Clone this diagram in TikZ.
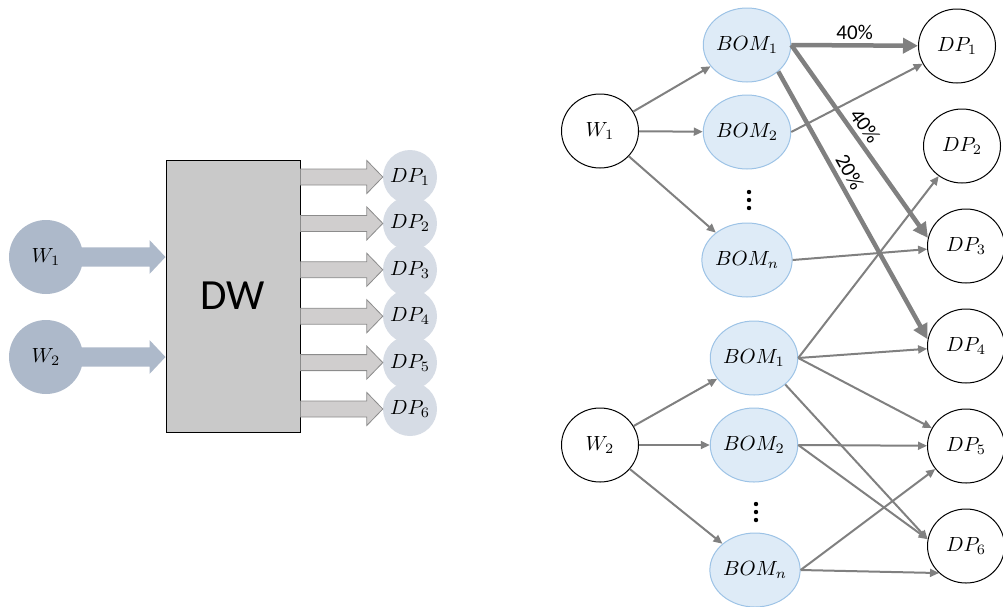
\documentclass[tikz,border=0pt]{standalone}
\usepackage{graphicx}
\usepackage{fontspec}
\newfontfamily\cfont{Carlito}
\usetikzlibrary{shapes.geometric,arrows.meta,calc}
\definecolor{wblue}{HTML}{ADB9CA}
\definecolor{dplight}{HTML}{D6DCE5}
\definecolor{dwgray}{HTML}{C9C9C9}
\definecolor{arrgray}{HTML}{D0CECE}
\definecolor{arroutline}{HTML}{8C8C8C}
\definecolor{bomfill}{HTML}{DEEBF7}
\definecolor{bomdraw}{HTML}{9DC3E6}
\definecolor{edgegray}{HTML}{808080}
\newcommand\mlbl[1]{\scalebox{2.05}{$#1$}}
\begin{document}
\begin{tikzpicture}[x=1pt,y=-1pt,
 wleft/.style={circle,fill=wblue,minimum size=74pt,inner sep=0pt},
 dpleft/.style={circle,fill=dplight,minimum size=54pt,inner sep=0pt},
 dwbox/.style={draw=black,line width=1pt,fill=dwgray,minimum width=134pt,minimum height=272pt,inner sep=0pt,font=\cfont\fontsize{43}{50}\selectfont},
 warrow/.style={fill=wblue},
 dparrow/.style={fill=arrgray,draw=arroutline,line width=0.8pt},
 plain/.style={ellipse,draw=black,line width=1pt,minimum width=77pt,minimum height=74pt,inner sep=0pt},
 bom/.style={ellipse,draw=bomdraw,line width=1pt,fill=bomfill,minimum width=77pt,minimum height=74pt,inner sep=0pt},
 flow/.style={draw=edgegray,line width=2pt,-{Triangle[length=9pt,width=8pt]}},
 bigflow/.style={draw=edgegray,line width=4.5pt,-{Triangle[length=15pt,width=15pt]}},
 pct/.style={font=\cfont\fontsize{21}{24}\selectfont,inner sep=2pt}
]
\useasboundingbox (0,0) rectangle (1003,606);

% ---------- left diagram ----------
\node[dwbox] (dw) at (233,296) {DW};
\foreach \i/\y in {1/177,2/223.4,3/269.8,4/316.2,5/362.6,6/409}{
  \node[dpleft] (ldp\i) at (410,\y) {\mlbl{DP_{\i}}};
}
\foreach \i in {1,...,6}{
  \coordinate (s\i) at (dw.east |- ldp\i.west);
  \draw[dparrow] ($(s\i)+(0,-8)$) -- ($(ldp\i.west)+(-16,-8)$) -- ($(ldp\i.west)+(-16,-16.5)$)
     -- (ldp\i.west) -- ($(ldp\i.west)+(-16,16.5)$) -- ($(ldp\i.west)+(-16,8)$) -- ($(s\i)+(0,8)$) -- cycle;
}
\node[wleft] (lw1) at (46,257) {\mlbl{W_1}};
\node[wleft] (lw2) at (46,357) {\mlbl{W_2}};
\foreach \w in {lw1,lw2}{
  \coordinate (t\w) at (dw.west |- \w.east);
  \fill[warrow] ($(\w.east)+(-4,-9.7)$) -- ($(t\w)+(-16,-9.7)$) -- ($(t\w)+(-16,-17)$) -- (t\w)
     -- ($(t\w)+(-16,17)$) -- ($(t\w)+(-16,9.7)$) -- ($(\w.east)+(-4,9.7)$) -- cycle;
}

% ---------- right diagram ----------
\node[plain] (w1) at (600,131) {\mlbl{W_1}};
\node[bom] (b11) at (747,45) {\mlbl{BOM_1}};
\node[bom] (b12) at (747,132) {\mlbl{BOM_2}};
\node[bom] (b1n) at (747,260) {\mlbl{BOM_n}};
\node[plain] (w2) at (600,445) {\mlbl{W_2}};
\node[bom] (b21) at (754,358) {\mlbl{BOM_1}};
\node[bom] (b22) at (754,445) {\mlbl{BOM_2}};
\node[bom] (b2n) at (755,570) {\mlbl{BOM_n}};
\node[plain] (p1) at (957,46) {\mlbl{DP_1}};
\node[plain] (p2) at (962,146) {\mlbl{DP_2}};
\node[plain] (p3) at (966,246) {\mlbl{DP_3}};
\node[plain] (p4) at (966,346) {\mlbl{DP_4}};
\node[plain] (p5) at (966,446) {\mlbl{DP_5}};
\node[plain] (p6) at (966,546) {\mlbl{DP_6}};

% vertical ellipsis dots
\foreach \y in {192,200,208}{\fill (749,\y) circle[radius=2.2pt];}
\foreach \y in {504,512,520}{\fill (756,\y) circle[radius=2.2pt];}

\draw[flow] (w1) -- (b11);
\draw[flow] (w1) -- (b12);
\draw[flow] (w1) -- (b1n);
\draw[flow] (b12.east) -- (p1);
\draw[flow] (b1n.east) -- (p3);
\draw[flow] (w2) -- (b21);
\draw[flow] (w2) -- (b22);
\draw[flow] (w2) -- (b2n);
\draw[flow] (b21.east) -- (p2);
\draw[flow] (b21.east) -- (p4);
\draw[flow] (b21.east) -- (p5);
\draw[flow] (b21.south east) -- (p6.170);
\draw[flow] (b22.east) -- (p5);
\draw[flow] (b22.east) -- (p6.170);
\draw[flow] (b2n.east) -- (p5);
\draw[flow] (b2n.east) -- (p6.-135);

\draw[bigflow] (b11.east) -- (p1) node[pct,midway,above=1pt] {40\%};
\draw[bigflow] (b11.east) -- (p3.168) node[pct,pos=0.46,sloped,above=2pt] {40\%};
\draw[bigflow] (b11.south east) -- (p4.170) node[pct,pos=0.4,sloped,above=2pt] {20\%};
\end{tikzpicture}
\end{document}
